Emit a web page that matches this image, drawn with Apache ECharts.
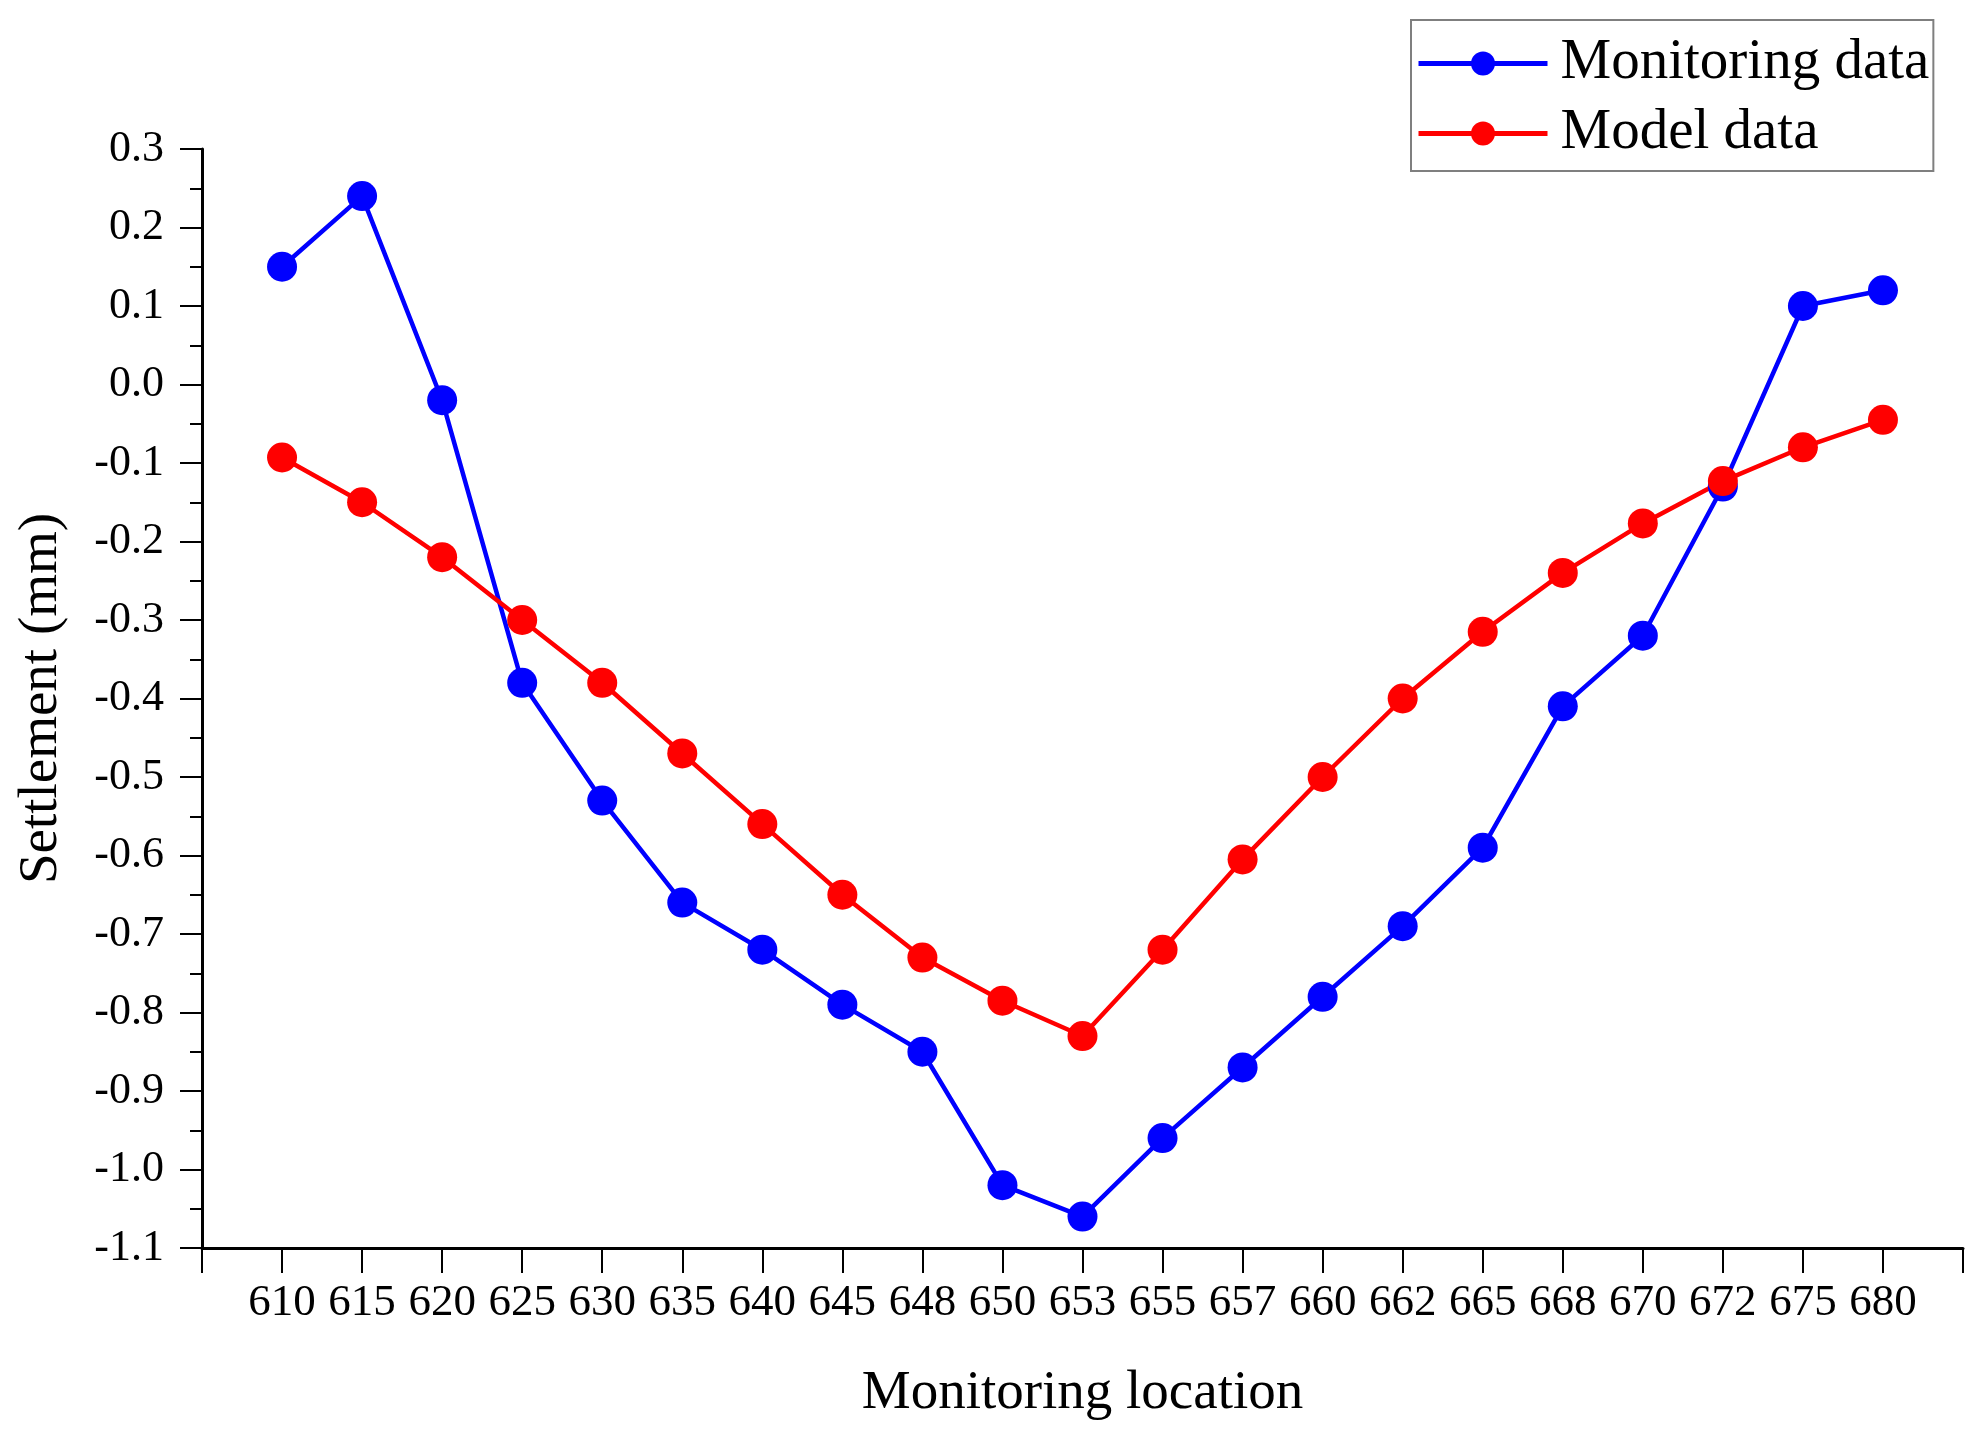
<!DOCTYPE html>
<html>
<head>
<meta charset="utf-8">
<script src="https://cdn.jsdelivr.net/npm/echarts@6/dist/echarts.min.js"></script>
<style>html,body{margin:0;padding:0;background:#fff}#c{width:1982px;height:1434px}</style>
</head>
<body>
<div id="c"></div>
<script>
const categories = ['610','615','620','625','630','635','640','645','648','650','653','655','657','660','662','665','668','670','672','675','680'];
const monitoringData = [0.15,0.24,-0.02,-0.38,-0.53,-0.66,-0.72,-0.79,-0.85,-1.02,-1.06,-0.96,-0.87,-0.78,-0.69,-0.59,-0.41,-0.32,-0.13,0.10,0.12];
const modelData = [-0.093,-0.15,-0.22,-0.30,-0.38,-0.47,-0.56,-0.65,-0.73,-0.785,-0.83,-0.72,-0.605,-0.50,-0.40,-0.315,-0.24,-0.177,-0.123,-0.08,-0.045];
const seriesNames = ['Monitoring data','Model data'];

const FONT = "'Liberation Serif','Times New Roman',serif";
const chart = echarts.init(document.getElementById('c'));
const toPts = arr => arr.map((v,i)=>[i,v]);
chart.setOption({
  backgroundColor:'#fff',
  animation:false,
  grid:{left:202,right:19,top:149,bottom:186,containLabel:false},
  legend:{
    left:1411, top:20, orient:'vertical',
    data:seriesNames,
    itemWidth:129, itemHeight:30, itemGap:13,
    padding:[15,4,9,5],
    borderColor:'#7f7f7f', borderWidth:2,
    lineStyle:{width:5},
    textStyle:{fontFamily:FONT,fontSize:57,color:'#000',padding:[0,0,0,8]}
  },
  xAxis:{
    type:'value', min:-1, max:21, interval:1,
    name:'Monitoring location', nameLocation:'middle', nameGap:118,
    nameTextStyle:{fontFamily:FONT,fontSize:55,color:'#000'},
    axisLine:{show:true,onZero:false,lineStyle:{color:'#000',width:3}},
    axisTick:{show:true,inside:false,length:25,lineStyle:{color:'#000',width:2}},
    axisLabel:{fontFamily:FONT,fontSize:45,color:'#000',margin:33,
      formatter:v=> (categories[v]!==undefined ? categories[v] : '')},
    splitLine:{show:false}
  },
  yAxis:{
    type:'value', min:-1.1, max:0.3, interval:0.1,
    name:'Settlement (mm)', nameLocation:'middle', nameGap:133, nameRotate:90,
    nameTextStyle:{fontFamily:FONT,fontSize:55,color:'#000'},
    axisLine:{show:true,onZero:false,lineStyle:{color:'#000',width:3}},
    axisTick:{show:true,inside:false,length:22,lineStyle:{color:'#000',width:2}},
    minorTick:{show:true,splitNumber:2,length:12,lineStyle:{color:'#000',width:2}},
    axisLabel:{fontFamily:FONT,fontSize:44,color:'#000',margin:38,
      formatter:v=>(Math.abs(v)<1e-9?0:v).toFixed(1)},
    splitLine:{show:false}
  },
  series:[
    {name:seriesNames[0],type:'line',data:toPts(monitoringData),symbol:'circle',symbolSize:30,
     lineStyle:{color:'#0000ff',width:4.5},itemStyle:{color:'#0000ff'}},
    {name:seriesNames[1],type:'line',data:toPts(modelData),symbol:'circle',symbolSize:30,
     lineStyle:{color:'#ff0000',width:4.5},itemStyle:{color:'#ff0000'}}
  ]
});
</script>
</body>
</html>
